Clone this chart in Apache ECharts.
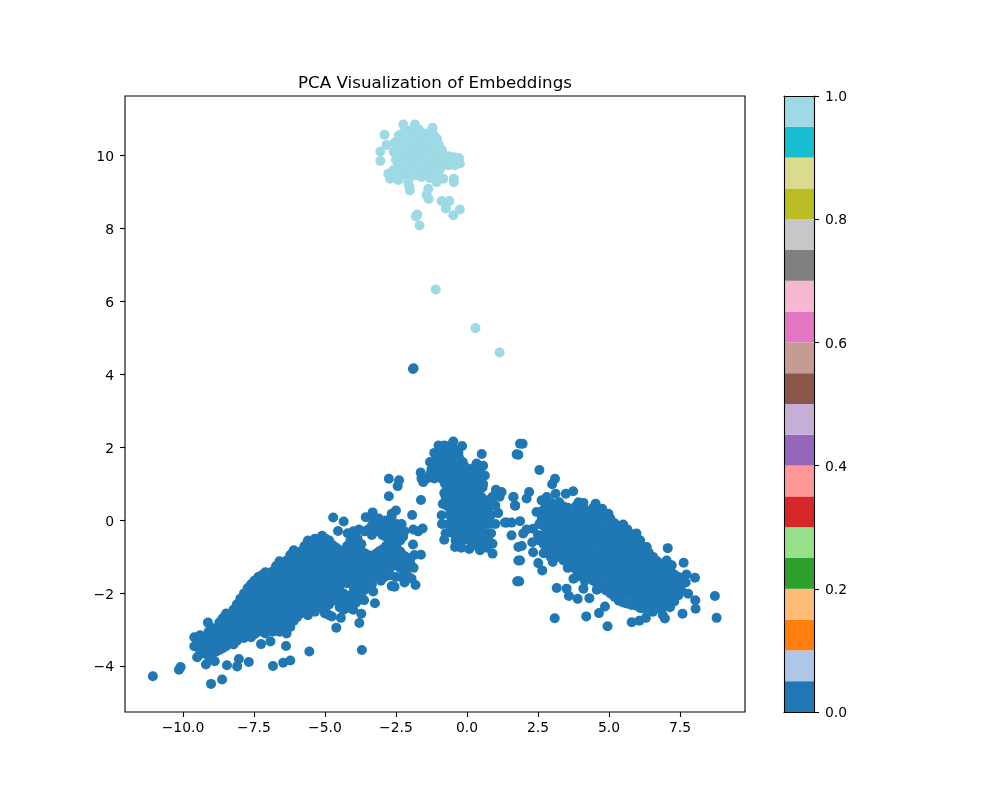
<!DOCTYPE html>
<html><head><meta charset="utf-8">
<style>html,body{margin:0;padding:0;background:#fff}#c{width:1000px;height:800px}</style>
<script src="https://cdn.jsdelivr.net/npm/echarts@6/dist/echarts.min.js"></script>
</head><body><div id="c"></div>
<script>
const xTicks=[-10,-7.5,-5,-2.5,0,2.5,5,7.5];
const yTicks=[-4,-2,0,2,4,6,8,10];
const colorbarColors=['#1f77b4','#aec7e8','#ff7f0e','#ffbb78','#2ca02c','#98df8a','#d62728','#ff9896','#9467bd','#c5b0d5','#8c564b','#c49c94','#e377c2','#f7b6d2','#7f7f7f','#c7c7c7','#bcbd22','#dbdb8d','#17becf','#9edae5'];
const classOne=[[-2.9,10.57],[-2.83,10.29],[-3.05,10.11],[-3.05,9.85],[-2.24,10.85],[-1.83,10.85],[-1.21,10.76],[-0.28,9.93],[-0.25,9.78],[-0.42,9.73],[-0.66,9.73],[-0.46,9.36],[-0.46,9.27],[-0.83,9.36],[-1.07,9.27],[-1.0,9.36],[-2.01,9.04],[-1.36,9.09],[-1.42,8.92],[-1.35,8.81],[-0.89,8.75],[-0.62,8.75],[-0.74,8.55],[-0.25,8.52],[-0.48,8.36],[-1.75,8.38],[-1.8,8.33],[-1.67,8.08],[-2.77,9.5],[-2.6,9.59],[-2.71,9.36],[-2.42,9.33],[-2.07,9.27],[-1.6,9.41],[-2.1,9.45],[-2.03,9.15],
[-2.4,10.55],[-2.15,10.7],[-1.95,10.68],[-1.7,10.72],[-1.45,10.6],[-1.2,10.6],[-1.05,10.45],[-2.55,10.35],[-2.3,10.4],[-2.05,10.45],[-1.8,10.48],[-1.55,10.42],[-1.3,10.4],[-1.0,10.3],[-0.88,10.15],
[-2.58,10.1],[-2.35,10.18],[-2.1,10.22],[-1.85,10.25],[-1.6,10.2],[-1.35,10.18],[-1.1,10.12],[-0.85,10.0],[-0.65,9.98],[-0.45,9.95],
[-2.5,9.88],[-2.28,9.95],[-2.02,9.98],[-1.78,10.0],[-1.52,9.98],[-1.28,9.95],[-1.02,9.88],[-0.8,9.8],
[-2.45,9.68],[-2.2,9.72],[-1.95,9.75],[-1.7,9.75],[-1.45,9.72],[-1.2,9.7],[-0.95,9.62],
[-2.25,9.5],[-1.98,9.5],[-1.72,9.55],[-1.45,9.5],[-1.2,9.48],[-1.05,9.45],
[-2.27,10.6],[-2.03,10.58],[-1.8,10.62],[-1.57,10.55],[-1.33,10.52],[-1.12,10.5],[-2.42,10.28],[-2.18,10.32],[-1.93,10.36],[-1.68,10.33],[-1.43,10.3],[-1.18,10.28],[-0.95,10.2],
[-2.47,10.0],[-2.2,10.08],[-1.96,10.12],[-1.72,10.12],[-1.47,10.08],[-1.22,10.05],[-0.97,10.0],[-0.75,9.9],[-0.55,9.85],[-2.35,9.8],[-2.1,9.85],[-1.85,9.88],[-1.6,9.87],[-1.35,9.84],[-1.1,9.8],[-0.88,9.7],
[-2.35,9.6],[-2.08,9.62],[-1.83,9.65],[-1.58,9.62],[-1.32,9.6],[-1.08,9.58],[-2.52,9.45],[-1.85,9.45],[-1.3,9.38],
[-1.1,6.33],[0.3,5.27],[1.15,4.6]];
const leftOutliers=[[-11.06,-4.27],[-10.14,-4.09],[-10.08,-4.02],[-9.01,-4.48],[-8.62,-4.36],[-9.19,-3.95],[-8.88,-3.86],[-8.45,-3.97],[-8.09,-4.0],[-8.03,-3.8],[-7.68,-3.88],[-6.83,-3.99],[-6.47,-3.9],[-6.22,-3.84],[-5.55,-3.59],[-6.37,-3.44],[-7.25,-3.39],[-6.92,-3.32],
[-2.75,1.14],[-2.39,1.1],[-2.44,0.94],[-2.75,0.66],[-1.62,0.56],[-2.5,0.27],[-2.65,0.18],[-1.93,0.15],[-3.32,0.22],[-3.56,0.09],[-4.71,0.08],[-4.34,-0.03],[-4.54,-0.29],[-1.89,-0.25],[-1.56,-0.22],[-1.72,-0.3],[-1.9,-0.66],[-1.62,-0.94],[-1.88,-1.3],[-1.81,-1.77],[-1.95,-1.6],[-2.65,-1.8],[-2.55,-1.82],[-3.03,-1.65],[-3.24,-2.27],[-3.72,-2.56],[-3.79,-2.81],[-4.44,-2.67],[-4.76,-2.63],[-4.6,-2.94],[-3.62,-2.19],[-3.7,-3.55],[-1.9,4.15],[-1.88,4.17],
[-5.0,-2.55],[-4.0,-2.45],[-3.9,-2.25],[-3.3,-1.95],[-3.1,-1.6],[-2.9,-1.55],[-2.7,-1.5],[-2.5,-1.55],[-2.3,-1.55],[-2.2,-1.7],[-4.2,-0.35],[-4.0,-0.3],[-3.8,-0.25],[-3.3,0.0],[-3.1,0.05],[-2.85,0.0],[-2.65,0.1],[-2.3,-0.1],[-2.2,-0.3]];
const leftBody=[[-9.6,-3.2],[-9.6,-3.45],[-9.5,-3.75],[-9.4,-3.15],[-9.4,-3.3],[-9.4,-3.5],[-9.4,-3.65],[-9.12,-2.8],[-9.1,-3.05],[-9.1,-3.3],[-9.1,-3.55],[-9.1,-3.72],
[-8.85,-3.0],[-8.85,-3.2],[-8.85,-3.45],[-8.85,-3.6],[-8.6,-2.68],[-8.6,-2.9],[-8.6,-3.15],[-8.6,-3.38],[-8.6,-3.5],[-8.35,-2.6],[-8.35,-2.85],[-8.35,-3.1],[-8.35,-3.35],
[-8.1,-2.3],[-8.1,-2.55],[-8.1,-2.8],[-8.1,-3.05],[-8.1,-3.3],[-7.85,-2.0],[-7.85,-2.25],[-7.85,-2.5],[-7.85,-2.75],[-7.85,-3.0],[-7.85,-3.22],
[-7.6,-1.75],[-7.6,-2.0],[-7.6,-2.25],[-7.6,-2.5],[-7.6,-2.75],[-7.6,-3.0],[-7.6,-3.2],[-7.35,-1.55],[-7.35,-1.8],[-7.35,-2.05],[-7.35,-2.3],[-7.35,-2.55],[-7.35,-2.8],[-7.35,-3.05],
[-7.1,-1.42],[-7.1,-1.65],[-7.1,-1.9],[-7.1,-2.15],[-7.1,-2.4],[-7.1,-2.65],[-7.1,-2.9],[-7.1,-3.1],[-6.85,-1.4],[-6.85,-1.6],[-6.85,-1.85],[-6.85,-2.1],[-6.85,-2.35],[-6.85,-2.6],[-6.85,-2.85],[-6.85,-3.05],
[-6.6,-1.12],[-6.6,-1.35],[-6.6,-1.6],[-6.6,-1.85],[-6.6,-2.1],[-6.6,-2.35],[-6.6,-2.6],[-6.6,-2.85],[-6.6,-3.05],[-6.35,-1.1],[-6.35,-1.3],[-6.35,-1.55],[-6.35,-1.8],[-6.35,-2.05],[-6.35,-2.3],[-6.35,-2.55],[-6.35,-2.8],[-6.35,-3.1],
[-6.1,-0.82],[-6.1,-1.05],[-6.1,-1.3],[-6.1,-1.55],[-6.1,-1.8],[-6.1,-2.05],[-6.1,-2.3],[-6.1,-2.55],[-6.1,-2.75],[-5.85,-0.85],[-5.85,-1.05],[-5.85,-1.3],[-5.85,-1.55],[-5.85,-1.8],[-5.85,-2.05],[-5.85,-2.3],[-5.85,-2.55],
[-5.6,-0.55],[-5.6,-0.8],[-5.6,-1.05],[-5.6,-1.3],[-5.6,-1.55],[-5.6,-1.8],[-5.6,-2.05],[-5.6,-2.3],[-5.6,-2.6],[-5.35,-0.5],[-5.35,-0.75],[-5.35,-1.0],[-5.35,-1.25],[-5.35,-1.5],[-5.35,-1.75],[-5.35,-2.0],[-5.35,-2.25],[-5.35,-2.5],
[-5.1,-0.42],[-5.1,-0.65],[-5.1,-0.9],[-5.1,-1.15],[-5.1,-1.4],[-5.1,-1.65],[-5.1,-1.9],[-5.1,-2.15],[-5.1,-2.4],[-4.85,-0.55],[-4.85,-0.8],[-4.85,-1.05],[-4.85,-1.3],[-4.85,-1.55],[-4.85,-1.8],[-4.85,-2.05],[-4.85,-2.3],[-4.85,-2.6],
[-4.6,-0.75],[-4.6,-1.0],[-4.6,-1.25],[-4.6,-1.5],[-4.6,-1.75],[-4.6,-2.0],[-4.6,-2.2],[-4.35,-0.85],[-4.35,-1.1],[-4.35,-1.35],[-4.35,-1.6],[-4.35,-2.0],[-4.35,-2.25],[-4.35,-2.45],
[-4.1,-0.55],[-4.1,-0.8],[-4.1,-1.05],[-4.1,-1.3],[-4.1,-1.55],[-4.1,-2.05],[-4.1,-2.3],[-3.85,-0.5],[-3.85,-0.75],[-3.85,-1.0],[-3.85,-1.25],[-3.85,-1.5],[-3.85,-1.75],[-3.85,-2.0],
[-3.6,-0.3],[-3.6,-0.9],[-3.6,-1.15],[-3.6,-1.4],[-3.6,-1.65],[-3.6,-1.9],[-3.35,-0.15],[-3.35,-0.4],[-3.35,-1.0],[-3.35,-1.25],[-3.35,-1.5],[-3.35,-1.75],
[-3.1,-0.1],[-3.1,-0.25],[-3.1,-0.85],[-3.1,-1.1],[-3.1,-1.35],[-2.85,-0.2],[-2.85,-0.45],[-2.85,-0.7],[-2.85,-1.0],[-2.85,-1.25],[-2.85,-1.4],
[-2.6,-0.2],[-2.6,-0.5],[-2.6,-0.75],[-2.6,-1.0],[-2.6,-1.25],[-2.35,-0.3],[-2.35,-0.55],[-2.35,-0.85],[-2.35,-1.1],[-2.35,-1.3],[-2.15,-1.0],[-2.15,-1.2],[-2.15,-1.35],[-2.05,-1.55],[-2.0,-1.15],[-1.85,-0.95]];
const leftFill=[[-9.5,-3.4],[-9.25,-3.2],[-9.25,-3.45],[-9.25,-3.65],[-8.98,-2.95],[-8.98,-3.18],[-8.98,-3.42],[-8.98,-3.65],[-8.72,-2.8],[-8.72,-3.05],[-8.72,-3.3],[-8.72,-3.55],[-8.48,-2.55],[-8.48,-2.78],[-8.48,-3.02],[-8.48,-3.28],[-8.48,-3.45],[-8.22,-2.45],[-8.22,-2.7],[-8.22,-2.95],[-8.22,-3.2],[-8.22,-3.4],[-7.98,-2.15],[-7.98,-2.4],[-7.98,-2.65],[-7.98,-2.9],[-7.98,-3.15],
[-7.72,-1.85],[-7.72,-2.12],[-7.72,-2.38],[-7.72,-2.62],[-7.72,-2.88],[-7.72,-3.12],[-7.48,-1.65],[-7.48,-1.9],[-7.48,-2.15],[-7.48,-2.4],[-7.48,-2.65],[-7.48,-2.9],[-7.48,-3.12],[-7.22,-1.5],[-7.22,-1.75],[-7.22,-2.0],[-7.22,-2.28],[-7.22,-2.52],[-7.22,-2.78],[-7.22,-3.0],
[-6.98,-1.52],[-6.98,-1.78],[-6.98,-2.02],[-6.98,-2.28],[-6.98,-2.52],[-6.98,-2.78],[-6.98,-3.0],[-6.72,-1.25],[-6.72,-1.5],[-6.72,-1.72],[-6.72,-1.98],[-6.72,-2.22],[-6.72,-2.48],[-6.72,-2.72],[-6.72,-2.95],[-6.48,-1.22],[-6.48,-1.48],[-6.48,-1.72],[-6.48,-1.98],[-6.48,-2.22],[-6.48,-2.48],[-6.48,-2.72],[-6.48,-2.95],
[-6.22,-0.95],[-6.22,-1.18],[-6.22,-1.42],[-6.22,-1.68],[-6.22,-1.92],[-6.22,-2.18],[-6.22,-2.42],[-6.22,-2.68],[-6.22,-2.92],[-5.98,-0.92],[-5.98,-1.18],[-5.98,-1.42],[-5.98,-1.68],[-5.98,-1.92],[-5.98,-2.18],[-5.98,-2.42],[-5.98,-2.65],[-5.72,-0.7],[-5.72,-0.95],[-5.72,-1.18],[-5.72,-1.42],[-5.72,-1.68],[-5.72,-1.92],[-5.72,-2.18],[-5.72,-2.42],
[-5.48,-0.62],[-5.48,-0.9],[-5.48,-1.15],[-5.48,-1.42],[-5.48,-1.68],[-5.48,-1.92],[-5.48,-2.18],[-5.48,-2.42],[-5.22,-0.58],[-5.22,-0.82],[-5.22,-1.08],[-5.22,-1.32],[-5.22,-1.58],[-5.22,-1.82],[-5.22,-2.08],[-5.22,-2.32],[-4.98,-0.5],[-4.98,-0.72],[-4.98,-0.98],[-4.98,-1.22],[-4.98,-1.48],[-4.98,-1.72],[-4.98,-1.98],[-4.98,-2.22],[-4.98,-2.5],
[-4.72,-0.68],[-4.72,-0.92],[-4.72,-1.18],[-4.72,-1.42],[-4.72,-1.68],[-4.72,-1.92],[-4.72,-2.18],[-4.48,-0.82],[-4.48,-1.05],[-4.48,-1.3],[-4.48,-1.55],[-4.48,-1.8],[-4.48,-2.1],[-4.48,-2.38],[-4.22,-0.7],[-4.22,-0.95],[-4.22,-1.2],[-4.22,-1.45],[-4.22,-1.72],[-4.22,-2.15],[-4.22,-2.4],[-3.98,-0.62],[-3.98,-0.88],[-3.98,-1.12],[-3.98,-1.38],[-3.98,-1.62],[-3.98,-1.88],[-3.98,-2.15],
[-3.72,-0.65],[-3.72,-0.85],[-3.72,-1.08],[-3.72,-1.32],[-3.72,-1.58],[-3.72,-1.82],[-3.72,-2.08],[-3.48,-0.25],[-3.48,-0.95],[-3.48,-1.2],[-3.48,-1.45],[-3.48,-1.72],[-3.22,-0.05],[-3.22,-0.3],[-3.22,-0.92],[-3.22,-1.18],[-3.22,-1.42],[-2.98,-0.15],[-2.98,-0.4],[-2.98,-0.8],[-2.98,-1.05],[-2.98,-1.3],[-2.72,-0.1],[-2.72,-0.35],[-2.72,-0.6],[-2.72,-0.9],[-2.72,-1.15],[-2.48,-0.1],[-2.48,-0.4],[-2.48,-0.65],[-2.48,-0.92],[-2.48,-1.18],[-2.25,-0.45],[-2.25,-0.95]];
const centre=[[-1.0,2.05],[-0.8,2.05],[-0.6,2.05],[-0.48,2.16],[-0.17,2.04],[0.52,1.82],[1.75,1.81],[1.87,2.1],
[-1.15,1.85],[-0.95,1.85],[-0.75,1.85],[-0.55,1.85],[-0.3,1.85],[-1.3,1.6],[-1.1,1.6],[-0.9,1.6],[-0.65,1.6],[-0.4,1.6],[-0.15,1.6],
[-1.25,1.4],[-1.0,1.4],[-0.75,1.4],[-0.5,1.4],[-0.25,1.4],[0.05,1.4],[0.2,1.42],[-1.63,1.31],[-1.54,1.05],[-1.6,1.15],[-1.4,1.15],[-1.15,1.15],[-0.9,1.15],[-0.6,1.15],[-0.35,1.15],[0.0,1.15],[0.35,1.15],
[0.34,1.56],[0.57,1.5],[0.46,1.32],[0.63,1.23],[0.57,1.0],
[-0.7,0.9],[-0.45,0.9],[-0.2,0.9],[0.05,0.9],[0.3,0.9],[0.55,0.9],[-0.75,0.65],[-0.5,0.65],[-0.25,0.65],[0,0.65],[0.25,0.65],[0.5,0.65],[0.9,0.65],[1.15,0.65],[1.22,0.78],[1.02,0.84],
[-0.7,0.4],[-0.45,0.4],[-0.2,0.4],[0.05,0.4],[0.3,0.4],[0.55,0.4],[0.8,0.4],[1.0,0.4],[-0.89,0.14],[-0.6,0.15],[-0.35,0.15],[-0.1,0.15],[0.15,0.15],[0.4,0.15],[0.65,0.15],[0.85,0.15],
[-0.65,-0.1],[-0.4,-0.1],[-0.15,-0.1],[0.1,-0.1],[0.35,-0.1],[0.6,-0.1],[0.75,-0.1],[-0.75,-0.35],[-0.5,-0.35],[-0.25,-0.35],[0,-0.35],[0.3,-0.35],[0.65,-0.35],[0.85,-0.35],
[-0.8,-0.53],[-0.4,-0.55],[-0.15,-0.55],[0.1,-0.55],[0.4,-0.55],[0.65,-0.55],[0.9,-0.64],[-0.42,-0.73],[-0.2,-0.75],[0.08,-0.78],[0.46,-0.82],[0.7,-0.75],[0.9,-0.91],
[1.63,0.64],[1.69,0.41],[1.4,-0.06],[1.57,-0.41],[1.81,-0.73],[1.81,-1.1],[1.77,-1.67],[-0.85,0.45],[-0.8,0.75],[-0.88,-0.1],[1.1,0.2],[1.0,-0.1]];
const centreFill=[[-0.9,1.95],[-0.7,1.95],[-0.45,1.95],[-1.05,1.72],[-0.82,1.72],[-0.55,1.72],[-0.28,1.72],[-1.15,1.5],[-0.88,1.5],[-0.62,1.5],[-0.38,1.5],[-0.1,1.5],[-1.28,1.28],[-1.02,1.28],[-0.78,1.28],[-0.48,1.28],[-0.18,1.28],[0.15,1.28],[-0.78,1.02],[-0.48,1.02],[-0.2,1.02],[0.18,1.02],[0.42,1.05],
[-0.58,0.78],[-0.32,0.78],[-0.08,0.78],[0.18,0.78],[0.42,0.78],[-0.62,0.52],[-0.35,0.52],[-0.1,0.52],[0.15,0.52],[0.42,0.52],[0.7,0.55],[-0.58,0.28],[-0.32,0.28],[-0.05,0.28],[0.2,0.28],[0.45,0.28],[0.72,0.28],[-0.5,0.02],[-0.25,0.02],[0,0.02],[0.25,0.02],[0.5,0.02],[0.75,0.02],[-0.55,-0.22],[-0.3,-0.22],[-0.05,-0.22],[0.22,-0.22],[0.5,-0.22],[-0.35,-0.45],[-0.1,-0.45],[0.2,-0.45],[0.5,-0.45],[0.75,-0.45],[0.25,-0.68],[0.55,-0.68]];
const rightWing=[[1.96,2.1],[1.81,1.8],[2.55,1.38],[3.1,1.14],[3.0,0.99],[3.12,0.73],[3.48,0.73],[3.74,0.8],[2.19,0.78],[2.1,0.6],[1.64,0.64],[1.7,0.4],[3.93,0.5],[4.1,0.48],[4.53,0.46],[4.76,0.32],[4.98,0.18],[5.5,-0.11],[5.97,-0.36],[6.33,-0.73],[7.07,-0.76],[7.63,-1.16],[7.03,-1.1],[7.21,-1.23],[7.73,-1.48],[8.03,-1.57],[8.73,-2.07],[8.79,-2.67],[8.05,-2.42],[8.04,-2.19],[7.59,-2.56],[7.79,-2.01],[6.97,-2.69],[6.3,-2.67],[6.07,-2.75],[5.8,-2.79],[4.95,-2.9],[4.2,-2.63],[3.09,-2.68],[4.65,-2.54],[4.86,-2.36],[3.16,-1.85],[1.84,-1.67],[1.87,-1.1],[2.65,-1.37],[2.51,-1.17],[3.02,-1.14],[3.59,-2.07],[3.9,-2.15],[4.31,-2.13],[4.57,-1.9],[3.51,-1.87],[4.1,-1.87],[3.75,-1.6],
[1.34,-0.06],[1.57,-0.06],[1.87,-0.02],[1.98,-0.36],[2.33,-0.23],[1.93,-0.7],[2.1,-0.25],[2.45,0.23],[2.63,0.55],[2.81,0.64],[2.63,0.03],[2.33,-0.87],[2.3,-0.6],[2.5,-0.4],
[2.7,0.3],[2.7,0.1],[2.7,-0.15],[2.7,-0.4],[2.7,-0.65],[2.7,-0.9],[2.95,0.5],[2.95,0.25],[2.95,0],[2.95,-0.25],[2.95,-0.5],[2.95,-0.75],[2.95,-1.0],
[3.25,0.5],[3.25,0.25],[3.25,0],[3.25,-0.25],[3.25,-0.5],[3.25,-0.75],[3.25,-1.0],[3.55,0.35],[3.55,0.1],[3.55,-0.15],[3.55,-0.4],[3.55,-0.65],[3.55,-0.9],[3.55,-1.15],[3.55,-1.3],
[3.85,0.4],[3.85,0.15],[3.85,-0.1],[3.85,-0.35],[3.85,-0.6],[3.85,-0.85],[3.85,-1.1],[3.85,-1.35],[3.85,-1.55],[4.15,0.3],[4.15,0.05],[4.15,-0.2],[4.15,-0.45],[4.15,-0.7],[4.15,-0.95],[4.15,-1.2],[4.15,-1.45],[4.15,-1.65],
[4.45,0.35],[4.45,0.1],[4.45,-0.15],[4.45,-0.4],[4.45,-0.65],[4.45,-0.9],[4.45,-1.15],[4.45,-1.4],[4.45,-1.65],[4.75,0.2],[4.75,-0.05],[4.75,-0.3],[4.75,-0.55],[4.75,-0.8],[4.75,-1.05],[4.75,-1.3],[4.75,-1.55],[4.75,-1.85],
[5.05,0.05],[5.05,-0.2],[5.05,-0.45],[5.05,-0.7],[5.05,-0.95],[5.05,-1.2],[5.05,-1.45],[5.05,-1.7],[5.05,-2.0],[5.35,-0.15],[5.35,-0.4],[5.35,-0.65],[5.35,-0.9],[5.35,-1.15],[5.35,-1.4],[5.35,-1.65],[5.35,-1.9],[5.35,-2.2],
[5.65,-0.25],[5.65,-0.5],[5.65,-0.75],[5.65,-1.0],[5.65,-1.25],[5.65,-1.5],[5.65,-1.75],[5.65,-2.0],[5.65,-2.28],[5.95,-0.42],[5.95,-0.65],[5.95,-0.9],[5.95,-1.15],[5.95,-1.4],[5.95,-1.65],[5.95,-1.9],[5.95,-2.15],[5.95,-2.33],
[6.25,-0.75],[6.25,-1.0],[6.25,-1.25],[6.25,-1.5],[6.25,-1.75],[6.25,-2.0],[6.25,-2.25],[6.25,-2.42],[6.55,-1.0],[6.55,-1.25],[6.55,-1.5],[6.55,-1.75],[6.55,-2.0],[6.55,-2.25],[6.55,-2.5],
[6.85,-1.2],[6.85,-1.45],[6.85,-1.7],[6.85,-1.95],[6.85,-2.2],[6.85,-2.45],[6.9,-2.6],[7.15,-1.35],[7.15,-1.6],[7.15,-1.85],[7.15,-2.1],[7.15,-2.38],[7.45,-1.55],[7.45,-1.8],[7.45,-2.05],[7.7,-1.7]];
const rightFill=[[2.55,-0.1],[2.55,-0.55],[2.82,0.4],[2.82,0.15],[2.82,-0.1],[2.82,-0.35],[2.82,-0.62],[2.82,-0.88],[3.1,0.4],[3.1,0.12],[3.1,-0.12],[3.1,-0.38],[3.1,-0.62],[3.1,-0.88],[3.4,0.38],[3.4,0.12],[3.4,-0.12],[3.4,-0.38],[3.4,-0.62],[3.4,-0.88],[3.4,-1.1],
[3.7,0.22],[3.7,-0.02],[3.7,-0.28],[3.7,-0.52],[3.7,-0.78],[3.7,-1.02],[3.7,-1.28],[4.0,0.28],[4.0,0.02],[4.0,-0.22],[4.0,-0.48],[4.0,-0.72],[4.0,-0.98],[4.0,-1.22],[4.0,-1.48],[4.3,0.18],[4.3,-0.08],[4.3,-0.32],[4.3,-0.58],[4.3,-0.82],[4.3,-1.08],[4.3,-1.32],[4.3,-1.58],
[4.6,0.22],[4.6,-0.02],[4.6,-0.28],[4.6,-0.52],[4.6,-0.78],[4.6,-1.02],[4.6,-1.28],[4.6,-1.52],[4.6,-1.78],[4.9,0.08],[4.9,-0.18],[4.9,-0.42],[4.9,-0.68],[4.9,-0.92],[4.9,-1.18],[4.9,-1.42],[4.9,-1.68],[4.9,-1.92],[5.2,-0.08],[5.2,-0.32],[5.2,-0.58],[5.2,-0.82],[5.2,-1.08],[5.2,-1.32],[5.2,-1.58],[5.2,-1.82],[5.2,-2.1],
[5.5,-0.28],[5.5,-0.52],[5.5,-0.78],[5.5,-1.02],[5.5,-1.28],[5.5,-1.52],[5.5,-1.78],[5.5,-2.02],[5.5,-2.25],[5.8,-0.38],[5.8,-0.62],[5.8,-0.88],[5.8,-1.12],[5.8,-1.38],[5.8,-1.62],[5.8,-1.88],[5.8,-2.12],[5.8,-2.32],[6.1,-0.55],[6.1,-0.78],[6.1,-1.02],[6.1,-1.28],[6.1,-1.52],[6.1,-1.78],[6.1,-2.02],[6.1,-2.28],[6.1,-2.4],
[6.4,-0.88],[6.4,-1.12],[6.4,-1.38],[6.4,-1.62],[6.4,-1.88],[6.4,-2.12],[6.4,-2.38],[6.7,-1.12],[6.7,-1.38],[6.7,-1.62],[6.7,-1.88],[6.7,-2.12],[6.7,-2.38],[7.0,-1.28],[7.0,-1.52],[7.0,-1.78],[7.0,-2.02],[7.0,-2.28],[7.3,-1.48],[7.3,-1.72],[7.3,-1.98],[7.3,-2.22],[7.55,-1.68],[7.55,-1.92]];
const classZero=[...leftOutliers,...leftBody,...leftFill,...centre,...centreFill,...rightWing,...rightFill];

const tickFmt=v=>v.toFixed(1).replace('-','\u2212');
const intFmt=v=>String(v).replace('-','\u2212');
const txt={color:'#000',fontFamily:'DejaVu Sans',fontSize:13.9};
const shifted={verticalAlign:'top',lineHeight:3};
const line={show:true,onZero:false,lineStyle:{color:'#000',width:1.1}};
const tick={show:true,length:5,lineStyle:{color:'#000',width:1.1}};
const hidden={show:false};
const noLine={show:false,onZero:false};
const chart=echarts.init(document.getElementById('c'),null,{renderer:'canvas'});
chart.setOption({
 animation:false,backgroundColor:'#fff',
 title:{text:'PCA Visualization of Embeddings',left:430,top:70,textAlign:'center',textStyle:{color:'#000',fontFamily:'DejaVu Sans',fontSize:16.7,fontWeight:'normal'}},
 grid:[{left:125,top:96,width:620,height:616,show:true,borderColor:'#000',borderWidth:1.1,backgroundColor:'#fff'},
       {left:784,top:96,width:30,height:616}],
 xAxis:[
  {type:'value',gridIndex:0,min:-12.04,max:9.79,splitLine:hidden,axisLine:noLine,
   axisTick:{...tick,customValues:xTicks},axisLabel:{...txt,margin:9,customValues:xTicks,formatter:tickFmt}},
  {type:'category',z:5,gridIndex:1,data:['c'],axisLine:line,axisTick:hidden,axisLabel:hidden,splitLine:hidden},
  {type:'category',z:5,gridIndex:1,position:'top',data:['c'],axisLine:line,axisTick:hidden,axisLabel:hidden,splitLine:hidden}],
 yAxis:[
  {type:'value',gridIndex:0,min:-5.25,max:11.63,splitLine:hidden,axisLine:noLine,
   axisTick:{...tick,customValues:yTicks},axisLabel:{...txt,...shifted,margin:11,customValues:yTicks,formatter:intFmt}},
  {type:'value',z:5,gridIndex:1,position:'right',min:0,max:1,interval:0.2,splitLine:hidden,axisLine:line,axisTick:tick,axisLabel:{...txt,...shifted,margin:11,formatter:v=>v.toFixed(1)}},
  {type:'value',z:5,gridIndex:1,position:'left',min:0,max:1,interval:0.2,splitLine:hidden,axisLine:line,axisTick:hidden,axisLabel:hidden}],
 series:[
  {type:'scatter',xAxisIndex:0,yAxisIndex:0,data:classZero,symbolSize:10,itemStyle:{color:colorbarColors[0],opacity:1}},
  {type:'scatter',xAxisIndex:0,yAxisIndex:0,data:classOne,symbolSize:10,itemStyle:{color:colorbarColors[19],opacity:1}},
  ...colorbarColors.map(c=>({type:'bar',xAxisIndex:1,yAxisIndex:1,stack:'cb',barWidth:'100%',data:[1/colorbarColors.length],itemStyle:{color:c},silent:true}))
 ]
});
</script></body></html>
